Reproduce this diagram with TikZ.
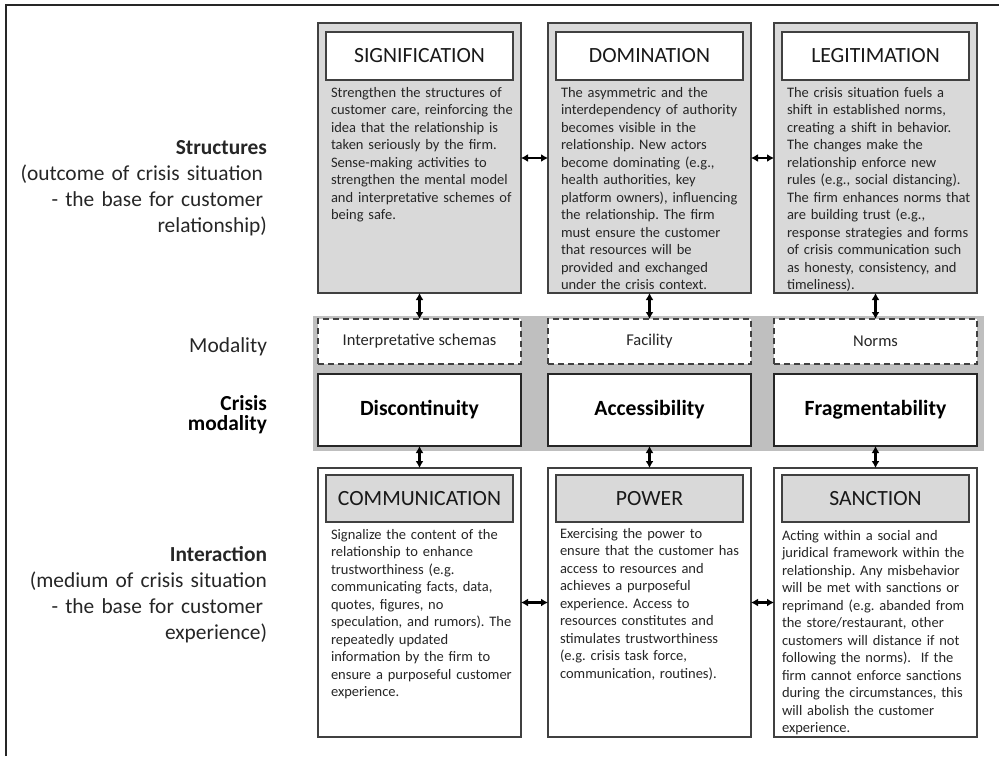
\documentclass[tikz,border=0pt]{standalone}
\usepackage{fontspec}
\setmainfont{Carlito}
\usetikzlibrary{arrows.meta}
\definecolor{lgray}{HTML}{D9D9D9}
\definecolor{bandgray}{HTML}{BFBFBF}
\definecolor{edge}{HTML}{404040}
\definecolor{txt}{HTML}{262626}
\frenchspacing
\begin{document}
\begin{tikzpicture}[x=1pt,y=-1pt,
  every node/.style={inner sep=0pt, outer sep=0pt},
  bigbox/.style={draw=edge, line width=1.2pt, anchor=north west, minimum width=203pt, minimum height=270pt},
  topbox/.style={bigbox, fill=lgray},
  botbox/.style={bigbox, fill=white, minimum height=269pt},
  ttl/.style={draw=edge, line width=1.2pt, anchor=north west, minimum width=187pt, minimum height=48pt, font=\fontsize{21.7}{26}\selectfont, text=black!90},
  ttltop/.style={ttl, fill=white},
  ttlbot/.style={ttl, fill=lgray, minimum height=47pt},
  body/.style={anchor=base west, text width=195pt, align=left, font=\fontsize{14.5}{17.5}\selectfont, text=txt},
  modbox/.style={draw=edge, dash pattern=on 6pt off 4pt, line width=1.3pt, fill=white, anchor=north west, minimum width=203pt, minimum height=45pt, font=\fontsize{16.5}{20}\selectfont, text=txt},
  crisbox/.style={draw=black!85, line width=1.4pt, fill=white, anchor=north west, minimum width=203pt, minimum height=72pt, font=\bfseries\fontsize{21.7}{26}\selectfont},
  lbl/.style={anchor=base east, text width=262pt, align=right, font=\fontsize{21.4}{26}\selectfont, text=black!85},
  dbl/.style={{Latex[length=7pt,width=8pt]}-{Latex[length=7pt,width=8pt]}, line width=2.2pt, black}
]
\useasboundingbox (0,0) rectangle (999,756);
% frame
\draw[line width=1.8pt, black!85] (6,756) -- (6,5) -- (999,5);

% left labels
\node[lbl] (lstruct) at (267,154) {\textbf{Structures}\\(outcome of crisis situation\kern4pt\\- the base for customer\kern4pt\\relationship)};
\node[lbl] (lmod) at (267,352) {Modality};
\node[lbl, font=\bfseries\fontsize{21.4}{20}\selectfont, text=black] (lcris) at (267,410) {Crisis\\modality};
\node[lbl] (linter) at (267,561) {\textbf{Interaction}\\(medium of crisis situation\\- the base for customer\kern4pt\\experience)};

% top boxes
\node[topbox] (sig) at (318,23) {};
\node[topbox] (dom) at (548,23) {};
\node[topbox] (leg) at (774,23) {};
\node[ttltop] (sigT) at (326,32) {SIGNIFICATION};
\node[ttltop] (domT) at (556,32) {DOMINATION};
\node[ttltop] (legT) at (782,32) {LEGITIMATION};

\node[body] (sigB) at (331,97) {Strengthen the structures of\\customer care, reinforcing the\\idea that the relationship is\\taken seriously by the firm.\\Sense-making activities to\\strengthen the mental model\\and interpretative schemes of\\being safe.};
\node[body] (domB) at (561,97) {The asymmetric and the\\interdependency of authority\\becomes visible in the\\relationship. New actors\\become dominating (e.g.,\\health authorities, key\\platform owners), influencing\\the relationship. The firm\\must ensure the customer\\that resources will be\\provided and exchanged\\under the crisis context.};
\node[body] (legB) at (787,97) {The crisis situation fuels a\\shift in established norms,\\creating a shift in behavior.\\The changes make the\\relationship enforce new\\rules (e.g., social distancing).\\The firm enhances norms that\\are building trust (e.g.,\\response strategies and forms\\of crisis communication such\\as honesty, consistency, and\\timeliness).};

% band
\node[fill=bandgray, anchor=north west, minimum width=671pt, minimum height=135pt] (band) at (313,316) {};
\node[modbox] (m1) at (318,319) {Interpretative schemas};
\node[modbox] (m2) at (548,319) {Facility};
\node[modbox] (m3) at (774,319) {Norms};
\node[crisbox] (c1) at (318,374) {Discontinuity};
\node[crisbox] (c2) at (548,374) {Accessibility};
\node[crisbox] (c3) at (774,374) {Fragmentability};

% bottom boxes
\node[botbox] (com) at (318,468) {};
\node[botbox] (pow) at (548,468) {};
\node[botbox] (san) at (774,468) {};
\node[ttlbot] (comT) at (326,475) {COMMUNICATION};
\node[ttlbot] (powT) at (556,475) {POWER};
\node[ttlbot] (sanT) at (782,475) {SANCTION};

\node[body] (comB) at (331,539) {Signalize the content of the\\relationship to enhance\\trustworthiness (e.g.\\communicating facts, data,\\quotes, figures, no\\speculation, and rumors). The\\repeatedly updated\\information by the firm to\\ensure a purposeful customer\\experience.};
\node[body] (powB) at (560,538) {Exercising the power to\\ensure that the customer has\\access to resources and\\achieves a purposeful\\experience. Access to\\resources constitutes and\\stimulates trustworthiness\\(e.g. crisis task force,\\communication, routines).};
\node[body] (sanB) at (782,540) {Acting within a social and\\juridical framework within the\\relationship. Any misbehavior\\will be met with sanctions or\\reprimand (e.g. abanded from\\the store/restaurant, other\\customers will distance if not\\following the norms).~ If the\\firm cannot enforce sanctions\\during the circumstances, this\\will abolish the customer\\experience.};

% connectors
\draw[dbl] (sig.south) -- (m1.north);
\draw[dbl] (dom.south) -- (m2.north);
\draw[dbl] (leg.south) -- (m3.north);
\draw[dbl] (c1.south) -- (com.north);
\draw[dbl] (c2.south) -- (pow.north);
\draw[dbl] (c3.south) -- (san.north);
\draw[dbl] (sig.east) -- (dom.west);
\draw[dbl] (dom.east) -- (leg.west);
\draw[dbl] (com.east) -- (pow.west);
\draw[dbl] (pow.east) -- (san.west);
\end{tikzpicture}
\end{document}
